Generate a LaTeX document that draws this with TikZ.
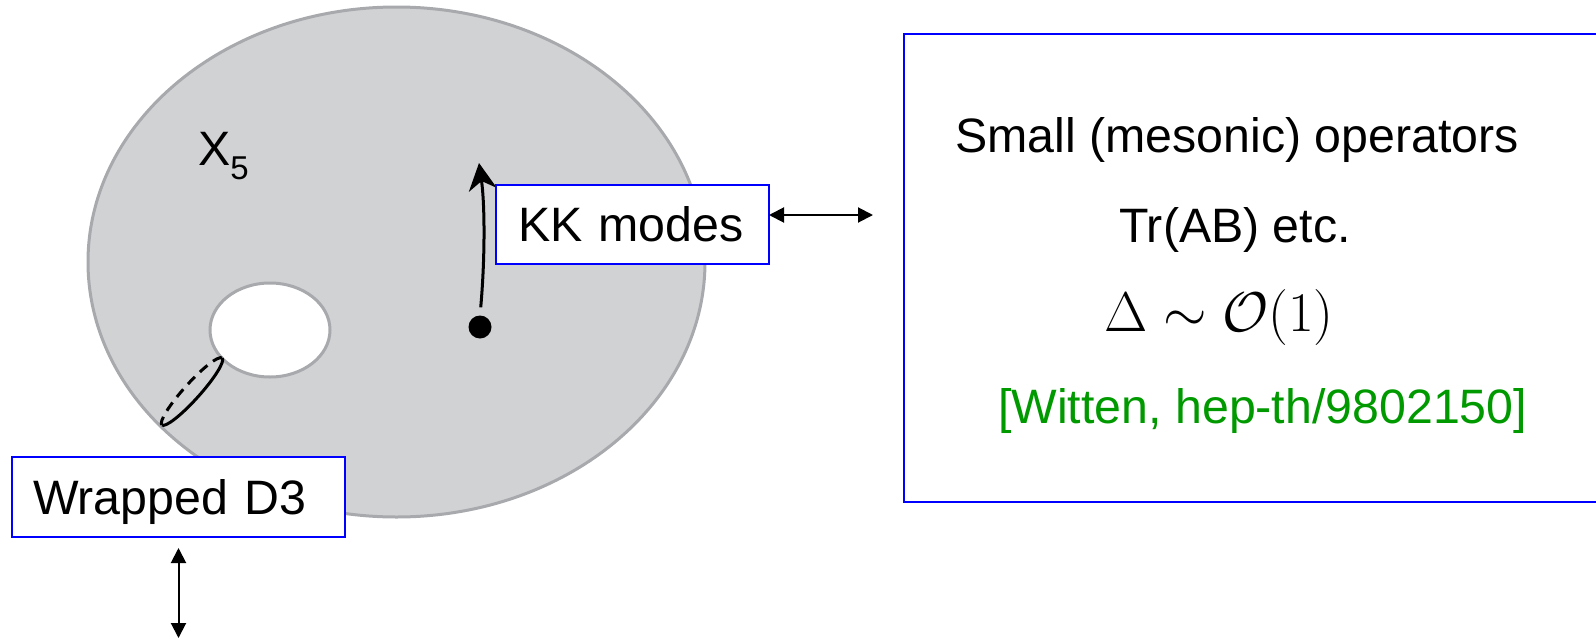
\RequirePackage{fix-cm}
\documentclass[tikz,border=0pt]{standalone}
\usepackage{fontspec}
\setmainfont{Liberation Sans}
\usepackage{tikz}
\usetikzlibrary{arrows.meta}
\definecolor{DiskGray}{RGB}{209,210,212}
\definecolor{DiskEdge}{RGB}{167,169,172}
\definecolor{BoxBlue}{RGB}{0,0,255}
\definecolor{RefGreen}{RGB}{0,153,0}

\begin{document}
\begin{tikzpicture}[
    x=1pt, y=1pt,
    font=\fontsize{48.3}{58}\selectfont,
    labelbox/.style={draw=BoxBlue, line width=2pt, fill=white, outer sep=0pt,
                     inner ysep=0pt, align=left, text height=34pt, text depth=0pt},
    twoway/.style={{Triangle[length=15pt,width=15pt]}-{Triangle[length=15pt,width=15pt]},
                   line width=2pt},
    modearrow/.style={-{Stealth[length=27pt,width=28pt]}, line width=3pt},
    txt/.style={inner sep=0pt, anchor=base west}
  ]
  \clip (0,0) rectangle (1596,-640);

  % X_5 with its hole
  \draw[fill=DiskGray, draw=DiskEdge, line width=3pt] (396.5,-262) ellipse [x radius=308.5pt, y radius=255pt];
  \draw[fill=white, draw=DiskEdge, line width=3pt] (270,-330) ellipse [x radius=60pt, y radius=47pt];
  \node[txt] (xfive) at (198,-165) {X\raisebox{-14pt}{\fontsize{33}{33}\selectfont 5}};

  % cycle round the hole
  \begin{scope}[shift={(192,-391.5)}, rotate=48]
    \draw[line width=3pt] (45,0) arc[start angle=0, end angle=-180, x radius=45pt, y radius=8pt];
    \draw[line width=3pt, dash pattern=on 10pt off 7pt] (45,0) arc[start angle=0, end angle=180, x radius=45pt, y radius=8pt];
  \end{scope}

  % point and KK modes
  \node[circle, fill=black, minimum size=23pt, inner sep=0pt] (pt) at (480,-327) {};
  \coordinate (modetip) at (479,-163);
  \draw[modearrow, shorten <=8pt] (pt.north) .. controls (485,-260) and (485,-205) .. (modetip);

  \node[labelbox, anchor=north west, minimum width=273pt, minimum height=79pt,
        inner xsep=22pt, text width=229pt] (kk) at (496,-185) {KK modes};
  \node[labelbox, anchor=north west, minimum width=333pt, minimum height=80pt,
        inner xsep=21pt, text width=291pt] (d3) at (12,-457) {Wrapped D3};

  % operator side
  \node[draw=BoxBlue, line width=2pt, outer sep=0pt, minimum width=706pt, minimum height=468pt,
        anchor=north west] (opbox) at (904,-34) {};
  \node[txt] (small) at (955,-152) {Small (mesonic) operators};
  \node[txt] (trab) at (1119,-242) {Tr(AB) etc.};
  \node[txt, font=\fontsize{56}{64}\selectfont] (dim) at (1104,-331) {$\Delta\sim\mathcal{O}(1)$};
  \node[txt, text=RefGreen] (ref) at (998,-423) {[Witten, hep-th/9802150]};

  \coordinate (kkend) at (873,-215);
  \coordinate (d3end) at (178.5,-638);
  \draw[twoway] (kk.east |- kkend) -- (kkend);
  \draw[twoway] ([yshift=-11pt]d3.south) -- (d3end);
\end{tikzpicture}
\end{document}
